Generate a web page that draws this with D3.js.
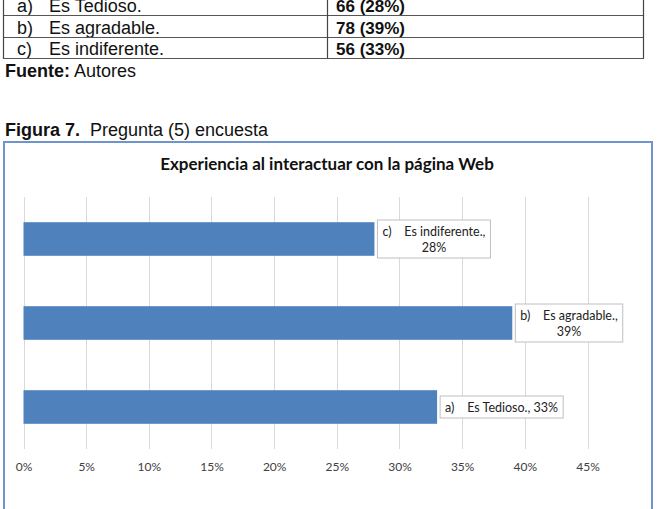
<!DOCTYPE html>
<html>
<head>
<meta charset="utf-8">
<script src="https://cdn.jsdelivr.net/npm/d3@7"></script>
<style>
  body { margin: 0; background: #fff; }
  svg { display: block; }
  text { white-space: pre; }
</style>
</head>
<body>
<div id="chart"></div>
<script>
// table above the figure
const tableLetters = ["a)", "b)", "c)"];
const tableAnswers = ["Es Tedioso.", "Es agradable.", "Es indiferente."];
const tableCounts = ["66 (28%)", "78 (39%)", "56 (33%)"];

// chart data
const categories = ["a)", "b)", "c)"];
const answers = ["Es Tedioso.", "Es agradable.", "Es indiferente."];
const values = [0.33, 0.39, 0.28];
const tickValues = [0, 0.05, 0.10, 0.15, 0.20, 0.25, 0.30, 0.35, 0.40, 0.45];

const width = 658, height = 509;

const svg = d3.select("#chart")
    .append("svg")
    .attr("width", width)
    .attr("height", height);

// ---- table (its top is cut off, like in the page scan) ----
const rowLines = [15.5, 37.5, 58.5];
const baselines = [12, 33.5, 54.5];
const tableFont = "18px 'Liberation Sans', Arial, sans-serif";
const table = svg.append("g");

table.selectAll(".row")
    .data(tableLetters)
    .enter()
    .append("g")
    .each(function(d, i) {
        const g = d3.select(this);
        const yb = baselines[i];
        g.append("text").attr("x", 17).attr("y", yb)
            .style("font", tableFont).attr("fill", "#111")
            .text(d);
        g.append("text").attr("x", 49).attr("y", yb)
            .style("font", tableFont).attr("fill", "#111")
            .text(tableAnswers[i]);
        g.append("text").attr("x", 336).attr("y", yb)
            .style("font", "bold 17px 'Liberation Sans', Arial, sans-serif").attr("fill", "#111")
            .text(tableCounts[i]);
    });

// lines of the table
rowLines.forEach(yl => {
    table.append("line")
        .attr("x1", 3).attr("x2", 644)
        .attr("y1", yl).attr("y2", yl)
        .attr("stroke", "#555").attr("stroke-width", 1.2);
});
[3.5, 327.5, 643.5].forEach(xl => {
    table.append("line")
        .attr("x1", xl).attr("x2", xl)
        .attr("y1", 0).attr("y2", 58.5)
        .attr("stroke", "#444").attr("stroke-width", 1.2);
});

const fuente = svg.append("text").attr("x", 5).attr("y", 77)
    .style("font", tableFont).attr("fill", "#111");
fuente.append("tspan").style("font-weight", "bold").text("Fuente:");
fuente.append("tspan").text(" Autores");

const figura = svg.append("text").attr("x", 5).attr("y", 136)
    .style("font", tableFont).attr("fill", "#111");
figura.append("tspan").style("font-weight", "bold").text("Figura 7.");
figura.append("tspan").text("  Pregunta (5) encuesta");

// ---- chart frame ----
svg.append("rect")
    .attr("x", 4).attr("y", 142)
    .attr("width", 648).attr("height", 380)
    .attr("fill", "#fff")
    .attr("stroke", "#6f93cc")
    .attr("stroke-width", 2);

svg.append("text")
    .attr("x", 327).attr("y", 170)
    .attr("text-anchor", "middle")
    .style("font", "bold 17px Lato, 'Open Sans', sans-serif")
    .attr("fill", "#111")
    .text("Experiencia al interactuar con la página Web");

const x = d3.scaleLinear().domain([0, 0.45]).range([23.5, 587.5]);
const y = d3.scaleBand()
    .domain(["c)", "b)", "a)"])
    .range([197, 449])
    .paddingInner(0.6)
    .paddingOuter(0.3);

// gridlines
svg.append("g")
    .selectAll("line")
    .data(tickValues)
    .enter()
    .append("line")
    .attr("x1", d => Math.round(x(d)) + 0.5)
    .attr("x2", d => Math.round(x(d)) + 0.5)
    .attr("y1", 197).attr("y2", 449)
    .attr("stroke", "#d9d9d9");

// x axis
const xAxis = svg.append("g")
    .attr("transform", "translate(0,449)")
    .call(d3.axisBottom(x).tickValues(tickValues).tickFormat(d3.format(".0%")).tickSize(0).tickPadding(13));
xAxis.select(".domain").remove();
xAxis.selectAll("text")
    .style("font", "12px Lato, 'Open Sans', sans-serif")
    .attr("fill", "#404040");

// bars
svg.append("g")
    .selectAll("rect")
    .data(values)
    .enter()
    .append("rect")
    .attr("x", x(0))
    .attr("y", (d, i) => y(categories[i]))
    .attr("width", d => x(d) - x(0))
    .attr("height", y.bandwidth())
    .attr("fill", "#4f81bd");

// data labels
const labelFont = "12.5px Lato, 'Open Sans', sans-serif";
values.forEach((v, i) => {
    const cx = y(categories[i]) + y.bandwidth() / 2;
    const g = svg.append("g");
    const pct = Math.round(v * 100) + "%";
    const twoLines = i > 0;
    const lines = twoLines
        ? [categories[i] + "    " + answers[i] + ",", pct]
        : [categories[i] + "    " + answers[i] + ", " + pct];
    const lineH = 16;
    const box = g.append("rect").attr("fill", "#fff").attr("stroke", "#bfbfbf");
    const texts = lines.map(t => g.append("text")
        .style("font", labelFont)
        .attr("fill", "#222")
        .attr("text-anchor", "middle")
        .text(t));
    const w = d3.max(texts, t => t.node().getComputedTextLength()) + 10;
    const h = lines.length * lineH + 6;
    const bx = x(v) + 3;
    box.attr("x", bx).attr("y", cx - h / 2).attr("width", w).attr("height", h);
    texts.forEach((t, k) => {
        t.attr("x", bx + w / 2)
         .attr("y", cx - (lines.length * lineH) / 2 + k * lineH + 12.5);
    });
});
</script>
</body>
</html>
